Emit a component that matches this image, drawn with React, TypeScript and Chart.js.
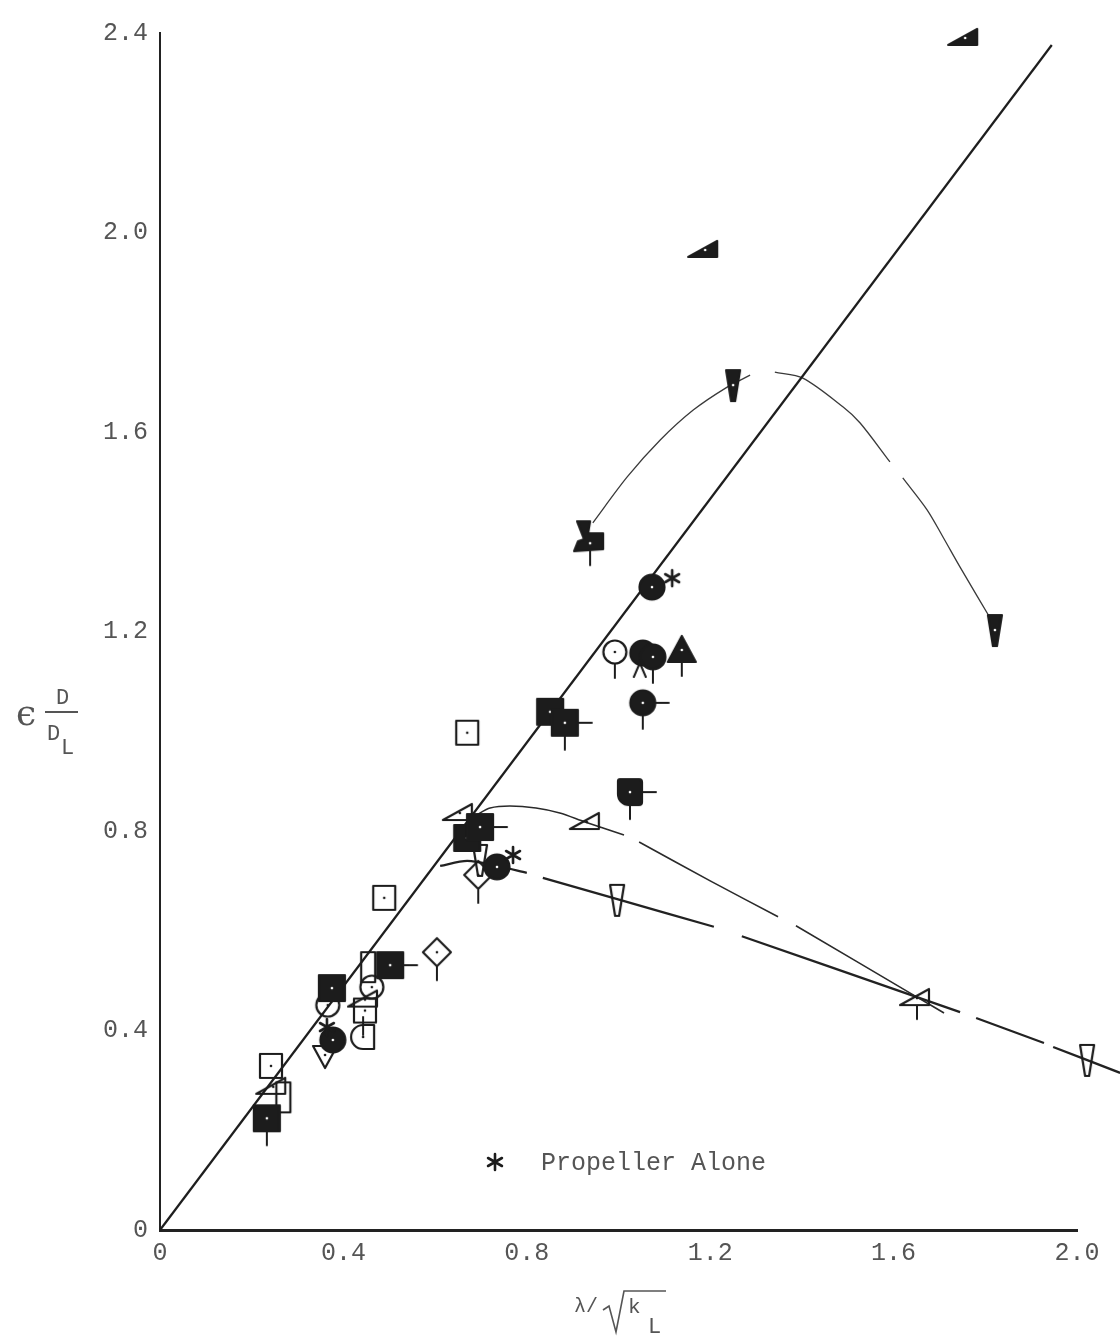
import React, { useEffect, useRef } from "react";
import { Chart, registerables } from "chart.js";
Chart.register(...registerables);

// ---------- axis ticks ----------
const xTicks = [0, 0.4, 0.8, 1.2, 1.6, 2.0];
const yTicks = [0, 0.4, 0.8, 1.2, 1.6, 2.0, 2.4];

// ---------- curves ----------
const mainLine: [number, number | null][] = [[0, 0], [1.945, 2.376]];
const upperArc: [number, number | null][] = [
  [0.944, 1.418], [1.019, 1.51], [1.091, 1.584], [1.163, 1.644], [1.237, 1.69], [1.287, 1.714], [1.31, null],
  [1.341, 1.72], [1.402, 1.708], [1.49, 1.65], [1.527, 1.618], [1.592, 1.54], [1.605, null],
  [1.62, 1.508], [1.673, 1.444], [1.708, 1.389], [1.745, 1.329], [1.817, 1.217],
];
const middleCurve: [number, number | null][] = [
  [0.69, 0.832], [0.72, 0.846], [0.763, 0.85], [0.82, 0.846], [0.872, 0.836], [0.927, 0.818], [1.012, 0.792], [1.03, null],
  [1.045, 0.778], [1.2, 0.7], [1.348, 0.628], [1.37, null],
  [1.387, 0.61], [1.651, 0.467], [1.71, 0.435],
];
const lowerCurve: [number, number | null][] = [
  [0.611, 0.73], [0.67, 0.74], [0.735, 0.73], [0.8, 0.716], [0.82, null],
  [0.835, 0.706], [1.003, 0.662], [1.208, 0.608], [1.24, null],
  [1.269, 0.589], [1.651, 0.467], [1.745, 0.437], [1.76, null],
  [1.78, 0.425], [1.928, 0.375], [1.94, null],
  [1.948, 0.367], [2.094, 0.315],
];

// ---------- marker series ----------
const filledSquares = [[0.233, 0.224], [0.375, 0.485], [0.502, 0.531], [0.67, 0.786], [0.698, 0.808], [0.851, 1.039], [0.883, 1.017]];
const filledSquareTails = ["d", "", "r", "", "r", "", "rd"];
const filledRoundSquares = [[1.025, 0.878]];
const filledRoundSquareTails = ["rd"];
const openSquares = [[0.242, 0.329], [0.489, 0.666], [0.67, 0.997], [0.447, 0.44]];
const openSquareTails = ["", "", "", ""];
const openCircles = [[0.366, 0.451], [0.462, 0.487], [0.992, 1.159]];
const openCircleTails = ["", "", "d"];
const filledCircles = [[0.377, 0.381], [0.735, 0.728], [1.073, 1.289], [1.053, 1.157], [1.075, 1.149], [1.053, 1.057]];
const filledCircleTails = ["", "", "", "x", "d", "rd"];
const filledTriangles = [[1.138, 1.163]];
const filledTriangleTails = ["d"];
const openTrianglesDown = [[0.36, 0.351]];
const openWedges = [[0.997, 0.662], [2.022, 0.341], [0.698, 0.742]];
const openTallRects = [[0.269, 0.266], [0.454, 0.527]];
const openRamps = [[0.247, 0.287], [0.654, 0.836], [0.931, 0.818], [1.651, 0.465], [0.447, 0.462]];
const openRampTails = ["", "", "", "d", ""];
const openDiamonds = [[0.604, 0.557], [0.694, 0.712]];
const openDiamondTails = ["d", "d"];
const openDShapes = [[0.443, 0.387]];
const filledWedges = [[1.25, 1.694], [1.821, 1.203]];
const filledRamps = [[1.189, 1.965], [1.756, 2.39]];
const planes = [[0.938, 1.377]];
const propellerAlone = [[0.364, 0.407], [0.77, 0.752], [1.117, 1.307]];

const legendLabel = "Propeller Alone";
const xTitle = { main: "λ/", k: "k", sub: "L" };

const INK = "#1c1c1c";
const TEXT = "#555555";
const MONO = "'Liberation Mono', 'DejaVu Sans Mono', monospace";

function makeMarker(shape: string, filled: boolean, tails = "", dot = false): HTMLCanvasElement {
  const c = document.createElement("canvas");
  c.width = 72;
  c.height = 72;
  const g = c.getContext("2d")!;
  g.translate(36, 36);
  g.lineWidth = 2.2;
  g.strokeStyle = INK;
  g.fillStyle = INK;
  g.lineJoin = "round";
  g.lineCap = "round";
  let b = { t: -12, b: 12, l: -12, r: 12 };
  g.beginPath();
  switch (shape) {
    case "square":
      if (filled) { g.rect(-13, -13, 26, 26); b = { t: -13, b: 13, l: -13, r: 13 }; }
      else { g.rect(-11, -12, 22, 24); }
      break;
    case "roundSquare":
      (g as any).roundRect(-12, -13, 24, 26, [2, 3, 3, 11]);
      b = { t: -13, b: 13, l: -12, r: 12 };
      break;
    case "circle":
      g.arc(0, 0, filled ? 12.5 : 11.5, 0, Math.PI * 2);
      break;
    case "triUp":
      g.moveTo(0, -14); g.lineTo(14, 12); g.lineTo(-14, 12); g.closePath();
      b = { t: -14, b: 12, l: -14, r: 14 };
      break;
    case "triDown":
      g.moveTo(-12, -9); g.lineTo(12, -9); g.lineTo(0, 13); g.closePath();
      b = { t: -9, b: 13, l: -12, r: 12 };
      break;
    case "wedge":
      g.moveTo(-7, -15); g.lineTo(7, -15); g.lineTo(2, 16); g.lineTo(-2, 16); g.closePath();
      b = { t: -15, b: 16, l: -7, r: 7 };
      break;
    case "tallRect":
      g.rect(-7, -15, 14, 30);
      b = { t: -15, b: 15, l: -7, r: 7 };
      break;
    case "ramp":
      g.moveTo(-17, 7); g.lineTo(12, -9); g.lineTo(12, 7); g.closePath();
      b = { t: -9, b: 7, l: -17, r: 12 };
      break;
    case "diamond":
      g.moveTo(0, -14); g.lineTo(14, 0); g.lineTo(0, 14); g.lineTo(-14, 0); g.closePath();
      b = { t: -14, b: 14, l: -14, r: 14 };
      break;
    case "dshape":
      g.moveTo(0, -12); g.lineTo(11, -12); g.lineTo(11, 12); g.lineTo(0, 12);
      g.arc(0, 0, 12, Math.PI / 2, Math.PI * 1.5); g.closePath();
      break;
    case "plane":
      g.moveTo(-13, -22); g.lineTo(0, -22); g.lineTo(-2, -10); g.lineTo(13, -10);
      g.lineTo(13, 6); g.lineTo(-16, 8); g.lineTo(-12, -2); g.lineTo(-6, -4); g.closePath();
      b = { t: -22, b: 8, l: -16, r: 13 };
      break;
    case "star": {
      g.lineWidth = 2.6;
      for (let k = 0; k < 3; k++) {
        const a = Math.PI / 2 + (k * Math.PI) / 3;
        g.moveTo(Math.cos(a) * 8, Math.sin(a) * 8);
        g.lineTo(-Math.cos(a) * 8, -Math.sin(a) * 8);
      }
      g.stroke();
      return c;
    }
  }
  if (filled) g.fill();
  g.stroke();
  g.beginPath();
  g.lineWidth = 2;
  if (tails.includes("d")) { g.moveTo(0, b.b); g.lineTo(0, b.b + 14); }
  if (tails.includes("r")) { g.moveTo(b.r, 0); g.lineTo(b.r + 14, 0); }
  if (tails.includes("u")) { g.moveTo(0, b.t + 10); g.lineTo(0, b.t - 8); }
  if (tails.includes("x")) { g.moveTo(-3, b.b - 2); g.lineTo(-9, b.b + 12); g.moveTo(-3, b.b - 2); g.lineTo(3, b.b + 12); }
  g.stroke();
  if (dot) {
    g.beginPath();
    g.fillStyle = filled ? "#ffffff" : INK;
    g.arc(0, 0, 1.3, 0, Math.PI * 2);
    g.fill();
  }
  return c;
}

const toXY = (arr: (number | null)[][]) => arr.map(([x, y]) => ({ x: x as number, y: y as any }));

export default function App() {
  const ref = useRef<HTMLCanvasElement>(null);

  useEffect(() => {
    const canvas = ref.current!;

    const markerSet = (pts: number[][], shape: string, filled: boolean, tails?: string[], dot = false) => ({
      type: "scatter" as const,
      data: toXY(pts),
      pointStyle: pts.map((_, i) => makeMarker(shape, filled, tails ? tails[i] : "", dot)),
      pointRadius: 12,
      pointHoverRadius: 12,
      showLine: false,
      clip: false as any,
    });

    const lineSet = (pts: (number | null)[][], width: number, color: string, tension: number) => ({
      type: "scatter" as const,
      data: toXY(pts),
      showLine: true,
      pointRadius: 0,
      pointHoverRadius: 0,
      borderColor: color,
      borderWidth: width,
      tension,
      spanGaps: false,
      clip: false as any,
    });

    const starCanvas = makeMarker("star", true);

    const decor = {
      id: "decor",
      beforeDraw(chart: any) {
        const ctx = chart.ctx;
        ctx.save();
        ctx.fillStyle = "#ffffff";
        ctx.fillRect(0, 0, chart.width, chart.height);
        ctx.restore();
      },
      afterDraw(chart: any) {
        const ctx = chart.ctx as CanvasRenderingContext2D;
        ctx.save();
        ctx.fillStyle = TEXT;
        ctx.strokeStyle = TEXT;
        // legend
        ctx.drawImage(starCanvas, 495 - 36, 1162 - 36);
        ctx.font = `25px ${MONO}`;
        ctx.textBaseline = "middle";
        ctx.textAlign = "left";
        ctx.fillText(legendLabel, 541, 1163);
        // x title
        ctx.font = `20px ${MONO}`;
        ctx.textBaseline = "alphabetic";
        ctx.fillText(xTitle.main, 574, 1312);
        ctx.lineWidth = 1.6;
        ctx.beginPath();
        ctx.moveTo(603, 1310);
        ctx.lineTo(609, 1306);
        ctx.lineTo(616, 1332);
        ctx.lineTo(624, 1291);
        ctx.lineTo(666, 1291);
        ctx.stroke();
        ctx.font = `21px ${MONO}`;
        ctx.fillText(xTitle.k, 628, 1313);
        ctx.font = `22px ${MONO}`;
        ctx.fillText(xTitle.sub, 648, 1333);
        // y title
        ctx.font = `36px 'DejaVu Serif', serif`;
        ctx.fillText("ϵ", 16, 725);
        ctx.font = `22px ${MONO}`;
        ctx.fillText("D", 56, 704);
        ctx.lineWidth = 2;
        ctx.beginPath();
        ctx.moveTo(45, 712);
        ctx.lineTo(78, 712);
        ctx.stroke();
        ctx.fillText("D", 47, 740);
        ctx.fillText("L", 61, 754);
        ctx.restore();
      },
    };

    const tickFont = { family: MONO, size: 25 };
    const fmt = (v: any) => (Number(v) === 0 ? "0" : Number(v).toFixed(1));

    const chart = new Chart(canvas, {
      type: "scatter",
      data: {
        datasets: [
          markerSet(propellerAlone, "star", true),
          markerSet(filledSquares, "square", true, filledSquareTails, true),
          markerSet(filledRoundSquares, "roundSquare", true, filledRoundSquareTails, true),
          markerSet(filledCircles, "circle", true, filledCircleTails, true),
          markerSet(filledTriangles, "triUp", true, filledTriangleTails, true),
          markerSet(filledWedges, "wedge", true, undefined, true),
          markerSet(filledRamps, "ramp", true, undefined, true),
          markerSet(planes, "plane", true, ["d"], true),
          markerSet(openSquares, "square", false, openSquareTails, true),
          markerSet(openCircles, "circle", false, openCircleTails, true),
          markerSet(openTrianglesDown, "triDown", false, undefined, true),
          markerSet(openWedges, "wedge", false),
          markerSet(openTallRects, "tallRect", false),
          markerSet(openRamps, "ramp", false, openRampTails, true),
          markerSet(openDiamonds, "diamond", false, openDiamondTails, true),
          markerSet(openDShapes, "dshape", false, ["u"], true),
          lineSet(mainLine, 2.2, "#1e1e1e", 0),
          lineSet(upperArc, 1.3, "#3a3a3a", 0.3),
          lineSet(middleCurve, 1.6, "#2a2a2a", 0.3),
          lineSet(lowerCurve, 2.3, "#222222", 0.3),
        ] as any,
      },
      options: {
        responsive: false,
        devicePixelRatio: 1,
        animation: false,
        layout: { padding: { top: 33, right: 43, left: 0, bottom: 0 } },
        plugins: { legend: { display: false }, tooltip: { enabled: false } },
        events: [],
        scales: {
          x: {
            type: "linear",
            min: 0,
            max: 2.0,
            afterBuildTicks: (s: any) => { s.ticks = xTicks.map((v) => ({ value: v })); },
            afterFit: (s: any) => { s.height = 110; },
            ticks: { font: tickFont, color: TEXT, padding: 8, callback: fmt, maxRotation: 0, autoSkip: false },
            grid: { display: false, drawTicks: false },
            border: { display: true, color: "#222", width: 3 },
          },
          y: {
            type: "linear",
            min: 0,
            max: 2.4,
            afterBuildTicks: (s: any) => { s.ticks = yTicks.map((v) => ({ value: v })); },
            afterFit: (s: any) => { s.width = 160; },
            ticks: { font: tickFont, color: TEXT, padding: 12, callback: fmt, autoSkip: false },
            grid: { display: false, drawTicks: false },
            border: { display: true, color: "#222", width: 2 },
          },
        },
      } as any,
      plugins: [decor],
    });

    return () => chart.destroy();
  }, []);

  return (
    <canvas
      ref={ref}
      width={1120}
      height={1340}
      style={{ position: "absolute", left: 0, top: 0, width: 1120, height: 1340 }}
    />
  );
}
